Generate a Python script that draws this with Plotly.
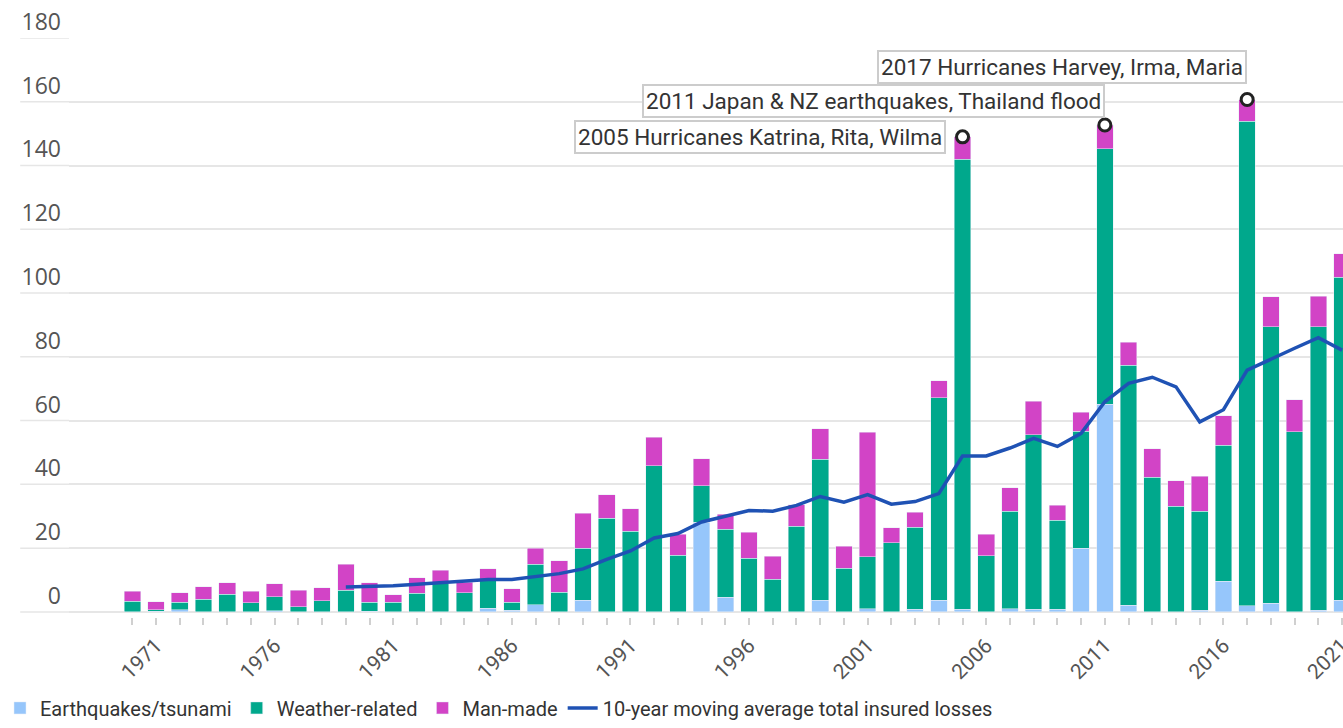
import plotly.graph_objects as go

years = list(range(1970, 2022))
quake = [0, 0.2, 0.7, 0, 0, 0, 0.3, 0, 0, 0,
         0.2, 0, 0, 0, 0, 1.2, 0.5, 2.3, 0, 3.7,
         0, 0, 0, 0, 28.1, 4.6, 0, 0, 0, 3.7,
         0, 1.0, 0, 0.8, 3.7, 0.8, 0, 1.0, 0.8, 0.8,
         20.0, 65.1, 2.1, 0, 0, 0.5, 9.6, 1.9, 2.7, 0,
         0.5, 3.7]
weather = [3.4, 0.5, 2.3, 4.0, 5.5, 2.9, 4.4, 1.6, 3.5, 6.8,
           2.8, 3.0, 5.9, 9.0, 6.0, 8.8, 2.6, 12.6, 6.1, 16.3,
           29.4, 25.3, 45.9, 17.8, 11.4, 21.4, 16.9, 10.2, 26.8, 44.2,
           13.7, 16.3, 21.7, 25.7, 63.4, 141.1, 17.6, 30.6, 54.7, 27.9,
           36.6, 80.1, 75.3, 42.3, 33.1, 31.1, 42.6, 152.0, 86.8, 56.5,
           89.0, 101.2]
manmade = [3.0, 2.5, 3.0, 3.9, 3.7, 3.6, 4.1, 5.2, 4.0, 8.1,
           6.2, 2.4, 4.8, 4.1, 3.3, 3.5, 4.2, 5.1, 9.9, 10.9,
           7.3, 7.1, 8.9, 6.6, 8.6, 4.7, 8.1, 7.3, 6.8, 9.5,
           6.9, 39.0, 4.7, 4.7, 5.4, 7.1, 6.7, 7.4, 10.6, 4.8,
           6.0, 7.5, 7.2, 8.8, 8.0, 11.0, 9.3, 6.8, 9.4, 10.0,
           9.5, 7.5]
ma_years = list(range(1979, 2022))
moving_avg = [7.8, 8.0, 8.2, 8.7, 9.2, 9.6, 10.2, 10.2, 11.2, 12.0,
              13.5, 16.5, 19.1, 23.2, 24.6, 28.2, 30.0, 31.8, 31.6, 33.4,
              36.2, 34.4, 36.8, 33.8, 34.6, 37.1, 48.9, 48.9, 51.4, 54.4,
              51.9, 56.0, 65.9, 71.7, 73.6, 70.6, 59.6, 63.4, 75.8, 79.4,
              82.7, 86.0, 82.1]
y_ticks = [0, 20, 40, 60, 80, 100, 120, 140, 160, 180]
x_labels = [str(y) if (y - 1971) % 5 == 0 else '' for y in years]
event_years = [2005, 2011, 2017]
event_labels = ['2005 Hurricanes Katrina, Rita, Wilma',
                '2011 Japan & NZ earthquakes, Thailand flood',
                '2017 Hurricanes Harvey, Irma, Maria']

totals = [q + w + m for q, w, m in zip(quake, weather, manmade)]
event_totals = [totals[years.index(y)] for y in event_years]

fig = go.Figure()
fig.add_trace(go.Bar(x=years, y=quake, name='Earthquakes/tsunami', marker_color='#96c6fb'))
fig.add_trace(go.Bar(x=years, y=weather, name='Weather-related', marker_color='#00a88c'))
fig.add_trace(go.Bar(x=years, y=manmade, name='Man-made', marker_color='#d244c6'))
fig.add_trace(go.Scatter(x=ma_years, y=moving_avg, mode='lines', name='10-year moving average total insured losses',
                         line=dict(color='#1f52b4', width=3.5)))
fig.add_trace(go.Scatter(x=event_years, y=event_totals, mode='markers', showlegend=False,
                         marker=dict(symbol='circle', size=12, color='white', line=dict(color='#222', width=3))))

# label boxes sit to the left of the marked bars
label_x = [2004.3, 2011.02, 2016.98]
label_y = [149.1, 160.1, 170.9]
for txt, lx, ly in zip(event_labels, label_x, label_y):
    fig.add_annotation(x=lx, y=ly, text=txt, showarrow=False, xanchor='right', yanchor='middle',
                       bgcolor='white', bordercolor='#cccccc', borderwidth=2, borderpad=2,
                       font=dict(family='Roboto', size=22.5, color='#333'))

# gridlines run a little further left than the plot area
for t in y_ticks:
    fig.add_shape(type='line', xref='paper', yref='y', x0=-0.0383, x1=0, y0=t, y1=t,
                  line=dict(color='#e6e6e6', width=1.5), layer='below')

fig.update_layout(
    width=1343, height=728,
    barmode='stack', bargap=0.3,
    plot_bgcolor='white', paper_bgcolor='white',
    margin=dict(l=62, r=0, t=38, b=110.5),
    showlegend=True,
    legend=dict(orientation='h', traceorder='normal', x=-0.0543, y=-0.1907, xanchor='left', yanchor='bottom',
                font=dict(family='Roboto', size=20, color='#333')),
    xaxis=dict(range=[1967.33, 2021.04], tickvals=years, ticktext=x_labels, tickangle=-45,
               ticks='outside', ticklen=7, tickwidth=1.5, tickcolor='#d0d0d0', showgrid=False, zeroline=False,
               showline=False, ticklabeloverflow='allow', automargin=False,
               tickfont=dict(family='Roboto', size=21, color='#555')),
    yaxis=dict(range=[-1.6, 180], tickvals=y_ticks, ticklabelposition='outside top', ticklabelstandoff=7,
               showgrid=True, gridcolor='#e6e6e6', gridwidth=1.5, zeroline=False, showline=False,
               automargin=False, tickfont=dict(family='Open Sans', size=23, color='#555')),
)
fig.write_html("out.html", config={'displayModeBar': False},
               post_script="document.body.style.margin='0';")
